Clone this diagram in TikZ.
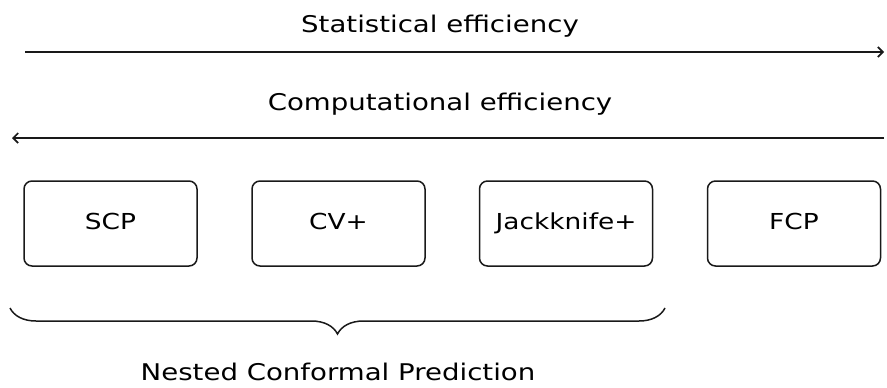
\documentclass[tikz,border=0pt]{standalone}
\usepackage{fontspec}
\setmainfont[FakeStretch=1.2]{DejaVu Sans}
\usetikzlibrary{arrows.meta,decorations.pathreplacing}
\begin{document}
\begin{tikzpicture}[x=1pt,y=-1pt,
  sketch/.style={line width=1.5pt, draw=black!90},
  box/.style={sketch, rounded corners=8pt, minimum width=173pt, minimum height=85pt, font=\fontsize{22}{26}\selectfont, inner sep=0pt, text height=16pt, text depth=4pt},
  lbl/.style={font=\fontsize{23}{27}\selectfont},
  axis/.style={line width=1.7pt, draw=black!90, -{Straight Barb[length=5pt,width=10pt]}},
  bracestyle/.style={line width=1.5pt, draw=black!90, decorate, decoration={brace, mirror, amplitude=26pt}}]
\useasboundingbox (0,0) rectangle (887,388);
\node[lbl] (stat) at (440,26) {Statistical efficiency};
\coordinate (s0) at (25,52);
\coordinate (s1) at (884,52);
\draw[axis] (s0) -- (s1);
\node[lbl] (comp) at (440,104) {Computational efficiency};
\coordinate (c0) at (884,138);
\coordinate (c1) at (12,138);
\draw[axis] (c0) -- (c1);
\node[box] (scp) at (110.5,223.5) {SCP};
\node[box] (cv) at (338.5,223.5) {CV+};
\node[box] (jk) at (566,223.5) {Jackknife+};
\node[box] (fcp) at (794,223.5) {FCP};
\coordinate (b0) at (10,308);
\coordinate (b1) at (665,308);
\draw[bracestyle] (b0) -- (b1);
\node[lbl] (ncp) at (338,372) {Nested Conformal Prediction};
\end{tikzpicture}
\end{document}
